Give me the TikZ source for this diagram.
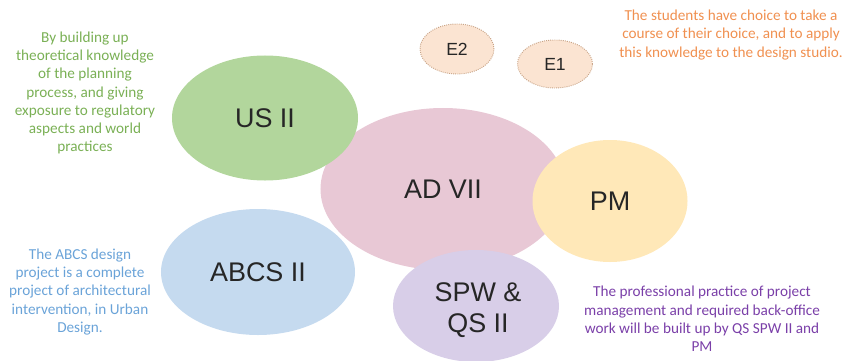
\documentclass[tikz,border=0pt]{standalone}
\usepackage{fontspec}
\setmainfont{Carlito}
\newfontfamily\labelfont{Liberation Sans}
\usetikzlibrary{shapes.geometric}

\definecolor{usgreen}{HTML}{B2D69C}
\definecolor{adpink}{HTML}{E8C8D5}
\definecolor{pmyellow}{HTML}{FFE8B8}
\definecolor{abcsblue}{HTML}{C5DAEF}
\definecolor{spwlilac}{HTML}{D8CEE8}
\definecolor{elefill}{HTML}{FBE4D2}
\definecolor{eleline}{HTML}{C8A488}
\definecolor{txtgreen}{HTML}{7AB055}
\definecolor{txtorange}{HTML}{F09050}
\definecolor{txtblue}{HTML}{6AA3D8}
\definecolor{txtpurple}{HTML}{7A3FA8}

\begin{document}
\begin{tikzpicture}[x=0.03cm,y=-0.03cm,
  bubble/.style={ellipse,inner sep=0pt,align=center,text=black!85,
    font=\labelfont\fontsize{23}{26}\selectfont},
  elective/.style={ellipse,inner sep=0pt,fill=elefill,draw=eleline,
    densely dotted,line width=0.8pt,text=black!85,
    font=\labelfont\fontsize{15}{18}\selectfont},
  note/.style={align=center,font=\fontsize{13}{15.6}\selectfont}]
  \useasboundingbox (0,0) rectangle (843,360);
  % bubbles
  \node[bubble,fill=adpink,minimum width=7.35cm,minimum height=4.86cm] (ad) at (443,189) {};
  \node[bubble,fill=usgreen,minimum width=5.58cm,minimum height=3.75cm] (us) at (265,118) {};
  \node[bubble,fill=pmyellow,minimum width=4.65cm,minimum height=3.66cm] (pm) at (610,201) {};
  \node[bubble,fill=abcsblue,minimum width=5.82cm,minimum height=3.78cm] (abcs) at (258,272) {};
  \node[bubble,fill=spwlilac,minimum width=4.98cm,minimum height=3.36cm] (spw) at (476,306) {};
  \node[elective,minimum width=2.22cm,minimum height=1.5cm] (e2) at (457,49) {E2};
  \node[elective,minimum width=2.25cm,minimum height=1.44cm] (e1) at (555,64) {E1};
  % labels
  \node[bubble] (uslbl) at (us) {US II};
  \node[bubble] (adlbl) at (ad) {AD VII};
  \node[bubble] (pmlbl) at (pm) {PM};
  \node[bubble] (abcslbl) at (abcs) {ABCS II};
  \node[bubble] (spwlbl) at (478,310) {SPW \&\\QS II};
  % notes
  \node[note,text=txtgreen] (usnote) at (85,93) {By building up\\theoretical knowledge\\of the planning\\process, and giving\\exposure to regulatory\\aspects and world\\practices};
  \node[note,text=txtorange] (enote) at (731,35) {The students have choice to take a\\course of their choice, and to apply\\this knowledge to the design studio.};
  \node[note,text=txtblue] (abcsnote) at (80,292) {The ABCS design\\project is a complete\\project of architectural\\intervention, in Urban\\Design.};
  \node[note,text=txtpurple] (spwnote) at (702,319) {The professional practice of project\\management and required back-office\\work will be built up by QS SPW II and\\PM};
\end{tikzpicture}
\end{document}
